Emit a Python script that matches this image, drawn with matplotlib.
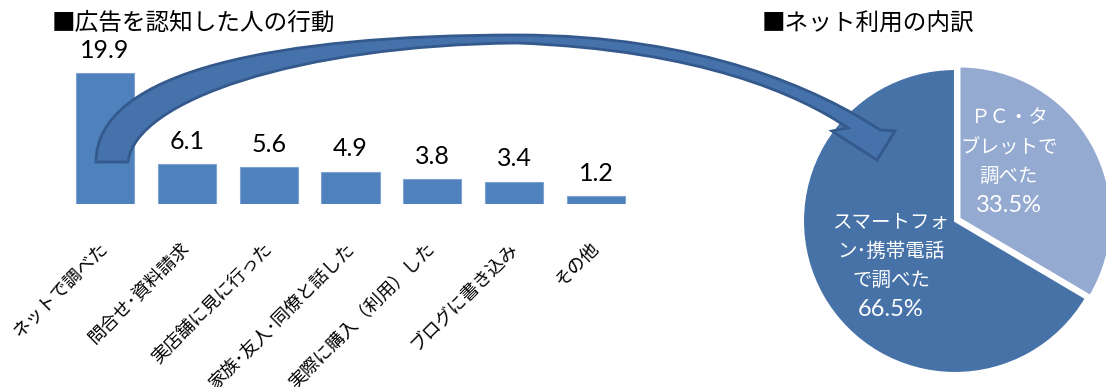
import matplotlib
matplotlib.use('Agg')
import matplotlib.pyplot as plt
from matplotlib.path import Path
from matplotlib.patches import PathPatch

plt.rcParams['font.family'] = ['Lato', 'Noto Sans CJK JP', 'DejaVu Sans']

# data
actions = ['ネットで調べた', '問合せ･資料請求', '実店舗に見に行った', '家族･友人･同僚と話した',
           '実際に購入（利用）した', 'ブログに書き込み', 'その他']
action_values = [19.9, 6.1, 5.6, 4.9, 3.8, 3.4, 1.2]

net_labels = [['ＰＣ・タ', 'ブレットで', '調べた'], ['スマートフォ', 'ン･携帯電話', 'で調べた']]
net_values = [33.5, 66.5]

W, H = 1106, 387
fig = plt.figure(figsize=(W / 100, H / 100), dpi=100)

# bar chart (left)
ax = fig.add_axes([64 / W, (H - 204) / H, 573 / W, 145 / H])
ax.bar(range(len(actions)), action_values, width=0.71, color='#4F81BD',
       edgecolor='#7FA3D1', linewidth=0.8)
ax.set_xlim(-0.5, 6.5)
ax.set_ylim(0, 22)
for i, v in enumerate(action_values):
    ax.annotate(f'{v}', (i, v), xytext=(0, 11), textcoords='offset points',
                ha='center', va='baseline', fontsize=18)
ax.set_xticks(range(len(actions)))
ax.set_xticklabels(actions, fontsize=13, rotation=45, ha='right', va='center',
                   rotation_mode='anchor')
ax.tick_params(axis='x', length=0, pad=30)
ax.set_yticks([])
for s in ax.spines.values():
    s.set_visible(False)

fig.text(52 / W, 1 - 23 / H, '■広告を認知した人の行動', fontsize=17, va='center', ha='left')
fig.text(762 / W, 1 - 24 / H, '■ネット利用の内訳', fontsize=17, va='center', ha='left')

# pie chart (right)
R = 160
cx, cy = 955, 221
ax2 = fig.add_axes([(cx - R) / W, (H - cy - R) / H, 2 * R / W, 2 * R / H])
ax2.pie(net_values, colors=['#94AAD0', '#4672A7'], startangle=90, counterclock=False,
        radius=152 / R, explode=[0.032, 0], wedgeprops=dict(edgecolor='white', linewidth=1.5))
ax2.set_xlim(-1, 1)
ax2.set_ylim(-1, 1)
ax2.set_aspect('equal')
ax2.axis('off')

# label blocks: (center x, first line y) in pixels
label_pos = [(1009, 118), (891, 222)]
step = 29
for lines, val, (px, py) in zip(net_labels, net_values, label_pos):
    for k, line in enumerate(lines):
        ax2.text((px - cx) / R, (cy - (py + k * step)) / R, line, color='white',
                 fontsize=14, ha='center', va='center')
    ax2.text((px - cx) / R, (cy - (py + 3 * step)) / R, f'{val}%', color='white',
             fontsize=17, ha='center', va='center')

# curved arrow overlay (pixel coordinates)
ov = fig.add_axes([0, 0, 1, 1])
ov.set_xlim(0, W)
ov.set_ylim(H, 0)
ov.axis('off')
verts = [(96, 162), (96, 70), (280, 35), (517, 35),
         (700, 35), (820, 90), (880, 130),
         (895, 131), (877, 160), (832, 131), (848, 128),
         (800, 95), (700, 50), (517, 43),
         (300, 45), (135, 100), (128, 162),
         (96, 162)]
codes = [Path.MOVETO, Path.CURVE4, Path.CURVE4, Path.CURVE4,
         Path.CURVE4, Path.CURVE4, Path.CURVE4,
         Path.LINETO, Path.LINETO, Path.LINETO, Path.LINETO,
         Path.CURVE4, Path.CURVE4, Path.CURVE4,
         Path.CURVE4, Path.CURVE4, Path.CURVE4,
         Path.CLOSEPOLY]
ov.add_patch(PathPatch(Path(verts, codes), facecolor='#4672AC', edgecolor='#34598C',
                       linewidth=2, joinstyle='miter'))

fig.savefig('out.png', dpi=100)
